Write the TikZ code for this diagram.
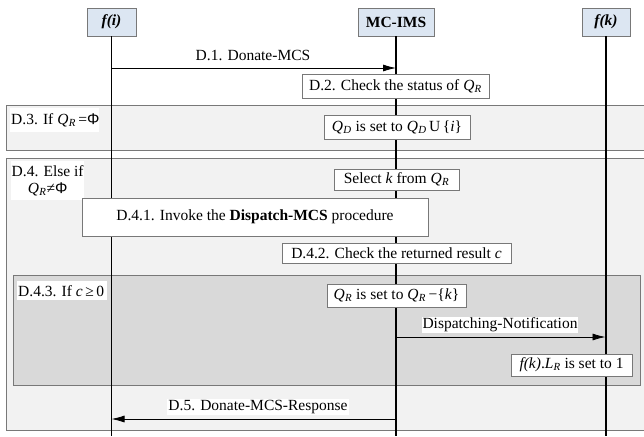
\documentclass[tikz,border=0pt]{standalone}
\usepackage{fontspec}
\setmainfont{Liberation Serif}
\newfontfamily\symfont{Liberation Sans}
\usetikzlibrary{arrows.meta}

\definecolor{headblue}{RGB}{220,230,242}
\definecolor{framegray}{RGB}{242,242,242}
\definecolor{innergray}{RGB}{217,217,217}
\definecolor{edgegray}{RGB}{120,120,120}

% Q with an italic subscript, and the empty-set sign
\newcommand{\Qs}[1]{\textit{Q}\kern0.3pt\textsubscript{\textit{#1}}}
\newcommand{\emptyPhi}{{\symfont Φ}}

\tikzset{
  header/.style={draw=edgegray, fill=headblue, minimum width=#1,
    minimum height=28pt, inner sep=0pt},
  actbox/.style={draw=edgegray, fill=white, inner sep=0pt, line width=0.8pt},
  framebox/.style={draw=edgegray, fill=framegray, line width=0.8pt},
  tagbox/.style={fill=white, inner sep=1pt, anchor=north west},
  lifeline/.style={line width=1.3pt},
  msg/.style={-{Latex[length=13pt,width=7pt]}, line width=0.8pt},
  msglabel/.style={fill=white, inner sep=1pt}
}

\begin{document}
\begin{tikzpicture}[x=1pt,y=-1pt,font=\fontsize{15.5}{17}\selectfont]
\useasboundingbox (0,0) rectangle (644,436);

% combined fragments
\begin{scope}
  \clip (0,0) rectangle (644,436);
  \draw[framebox] (6,105) rectangle (660,150);
  \draw[framebox] (6,158) rectangle (660,430);
  \draw[framebox, fill=innergray] (13,275) rectangle (640,385);
\end{scope}

% fragment guards
\node[tagbox, minimum height=24pt] (g3) at (10,108)
  {\makebox[87pt][l]{D.3. If \Qs{R}\,=\emptyPhi}};
\node[tagbox, minimum width=72pt, minimum height=39pt, align=center,
  inner sep=0.5pt] (g4) at (11,161)
  {D.4. Else if\\\Qs{R}≠\emptyPhi};
\node[tagbox, minimum height=19pt] (g43) at (17,281)
  {\makebox[88pt][l]{D.4.3. If \textit{c}\,≥\,0}};

% participants
\node[header=49pt] (fi) at (111.5,22) {\textbf{\textit{f(i)}}};
\node[header=76pt] (ims) at (396,22) {\textbf{MC-IMS}};
\node[header=48pt] (fk) at (606,22) {\textbf{\textit{f(k)}}};

\coordinate (bottom) at (0,436);
\draw[lifeline] (fi) -- (fi |- bottom);
\draw[lifeline] (ims) -- (ims |- bottom);
\draw[lifeline] (fk) -- (fk |- bottom);

% D.1
\coordinate (d1a) at (111.5,68);
\coordinate (d1b) at (396,68);
\draw[msg] (d1a) -- (d1b);
\node (l1) at (253,55) {D.1. Donate-MCS};

% actions
\node[actbox, minimum width=187pt, minimum height=24pt] (a2) at (395.5,86)
  {D.2. Check the status of \Qs{R}};
\node[actbox, minimum width=146pt, minimum height=24pt] (a3) at (397,127)
  {\Qs{D} is set to \Qs{D}\,U\,\{\textit{i}\}};
\node[actbox, minimum width=125pt, minimum height=21pt] (a4) at (396.5,179.5)
  {Select \textit{k} from \Qs{R}};
\node[actbox, minimum width=346pt, minimum height=38pt] (a41) at (255,217)
  {D.4.1. Invoke the \textbf{Dispatch-MCS} procedure};
\node[actbox, minimum width=229pt, minimum height=20pt] (a42) at (396.5,253)
  {D.4.2. Check the returned result \textit{c}};
\node[actbox, minimum width=139pt, minimum height=23pt] (a43) at (396.5,295.5)
  {\Qs{R} is set to \Qs{R}\,−\{\textit{k}\}};

% dispatching notification
\coordinate (dna) at (396,337);
\coordinate (dnb) at (605.5,337);
\draw[msg] (dna) -- (dnb);
\node[msglabel] (ldn) at (500,325) {Dispatching-Notification};

\node[actbox, minimum width=121pt, minimum height=22pt] (a44) at (571.5,365)
  {\textit{f(k)}.\textit{L}\textsubscript{\textit{R}} is set to 1};

% D.5
\coordinate (d5a) at (396,419);
\coordinate (d5b) at (111.5,419);
\draw[msg] (d5a) -- (d5b);
\node[msglabel] (l5) at (258,407) {D.5. Donate-MCS-Response};
\end{tikzpicture}
\end{document}
